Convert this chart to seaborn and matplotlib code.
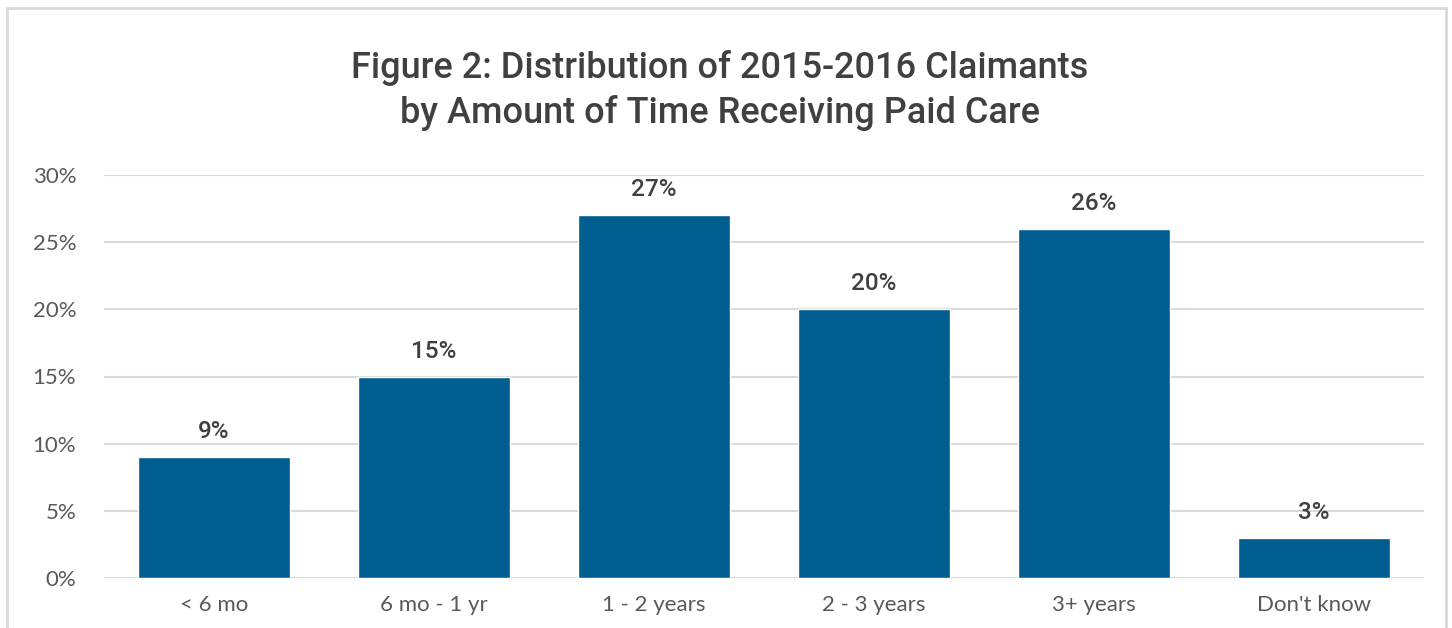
import matplotlib
matplotlib.use("Agg")
import matplotlib.pyplot as plt
import seaborn as sns
import pandas as pd
from matplotlib.patches import Rectangle
from matplotlib.ticker import PercentFormatter

# data
categories = ["< 6 mo", "6 mo - 1 yr", "1 - 2 years", "2 - 3 years", "3+ years", "Don't know"]
shares = [9, 15, 27, 20, 26, 3]
y_ticks = [0, 5, 10, 15, 20, 25, 30]

df = pd.DataFrame({"period": categories, "share": shares})

sns.set_style("white")
plt.rcParams["font.family"] = ["Lato", "DejaVu Sans"]

W, H = 1452, 628
fig = plt.figure(figsize=(W / 100, H / 100), dpi=100)
ax = fig.add_axes([104 / W, 1 - 578 / H, 1320 / W, (578 - 175) / H])

sns.barplot(data=df, x="period", y="share", color="#005D8F", saturation=1,
            width=0.69, ax=ax)

ax.set_ylim(0, 30)
ax.set_yticks(y_ticks)
ax.yaxis.set_major_formatter(PercentFormatter(decimals=0))
ax.grid(axis="y", color="#D9D9D9", linewidth=1.5)
ax.set_axisbelow(True)
for s in ax.spines.values():
    s.set_visible(False)
ax.set_xlabel("")
ax.set_ylabel("")
ax.tick_params(axis="both", length=0, labelsize=16, labelcolor="#595959")
ax.tick_params(axis="x", pad=12)
ax.tick_params(axis="y", pad=20)

ax.bar_label(ax.containers[0], labels=[f"{v}%" for v in shares], padding=10,
             fontsize=17.5, fontweight="medium", color="#404040",
             family=["Roboto", "DejaVu Sans"])

title_font = dict(ha="center", va="center", fontsize=26, fontweight="medium",
                  color="#404040", family=["Roboto", "DejaVu Sans"])
fig.text(720 / W, 1 - 68 / H, "Figure 2: Distribution of 2015-2016 Claimants", **title_font)
fig.text(720 / W, 1 - 113 / H, "by Amount of Time Receiving Paid Care", **title_font)

# outer frame
fig.patches.append(Rectangle((7 / W, -0.05), (1446 - 7) / W, 1 - 8 / H + 0.05,
                             transform=fig.transFigure, fill=False,
                             edgecolor="#D9D9D9", linewidth=2))

fig.savefig("out.png", dpi=100)
